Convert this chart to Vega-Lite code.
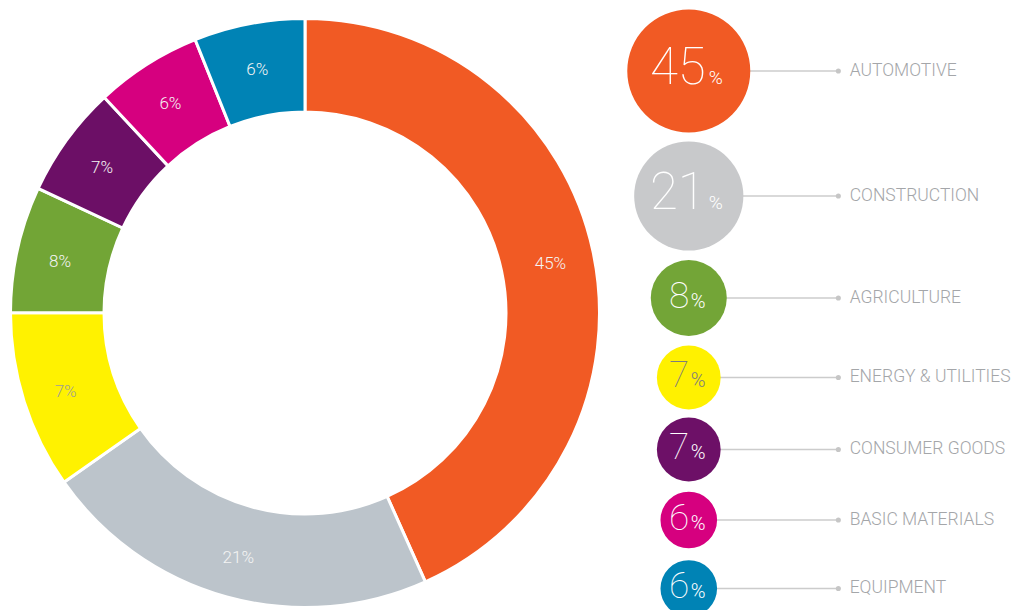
{
  "$schema": "https://vega.github.io/schema/vega-lite/v6.json",
  "background": "white",
  "padding": 0,
  "spacing": 0,
  "config": {"view": {"stroke": null}},
  "resolve": {"scale": {"color": "independent"}},
  "datasets": {
    "sectors": [
      {"sector": "AUTOMOTIVE", "pct": 45, "share": 43.3},
      {"sector": "CONSTRUCTION", "pct": 21, "share": 21.96},
      {"sector": "ENERGY & UTILITIES", "pct": 7, "share": 9.75},
      {"sector": "AGRICULTURE", "pct": 8, "share": 6.94},
      {"sector": "CONSUMER GOODS", "pct": 7, "share": 6.12},
      {"sector": "BASIC MATERIALS", "pct": 6, "share": 5.85},
      {"sector": "EQUIPMENT", "pct": 6, "share": 6.08}
    ]
  },
  "hconcat": [
    {
      "width": 610,
      "height": 626,
      "data": {"name": "sectors"},
      "transform": [
        {"window": [{"op": "row_number", "as": "idx"}]},
        {"calculate": "datum.pct + '%'", "as": "label"}
      ],
      "encoding": {
        "theta": {"field": "share", "type": "quantitative", "stack": true},
        "order": {"field": "idx", "type": "quantitative"}
      },
      "layer": [
        {
          "mark": {"type": "arc", "outerRadius": 294.5, "innerRadius": 201, "stroke": "white", "strokeWidth": 3},
          "encoding": {
            "color": {
              "field": "sector", "type": "nominal", "legend": null,
              "scale": {
                "domain": ["AUTOMOTIVE", "CONSTRUCTION", "ENERGY & UTILITIES", "AGRICULTURE", "CONSUMER GOODS", "BASIC MATERIALS", "EQUIPMENT"],
                "range": ["#F15A24", "#BCC4CB", "#FFF200", "#72A536", "#6C0F66", "#D6007F", "#0083B5"]
              }
            }
          }
        },
        {
          "mark": {"type": "text", "radius": 251, "dy": 3, "font": "Roboto", "fontWeight": 300, "fontSize": 17},
          "encoding": {
            "text": {"field": "label", "type": "nominal"},
            "detail": {"field": "sector", "type": "nominal"},
            "color": {"condition": {"test": "datum.sector === 'ENERGY & UTILITIES'", "value": "#a09f94"}, "value": "#f4f4f4"}
          }
        }
      ]
    },
    {
      "width": 419,
      "height": 626,
      "data": {"name": "sectors"},
      "transform": [
        {"window": [{"op": "row_number", "as": "idx"}]},
        {"window": [{"op": "row_number", "as": "rank"}], "sort": [{"field": "pct", "order": "descending"}, {"field": "idx", "order": "ascending"}]}
      ],
      "encoding": {
        "y": {"field": "rank", "type": "quantitative", "axis": null,
              "scale": {"domain": [1, 2, 3, 4, 5, 6, 7], "range": [71, 196, 298, 377.5, 449.5, 520, 588.5]}}
      },
      "layer": [
        {
          "mark": {"type": "rule", "stroke": "#cccccc", "strokeWidth": 1.5},
          "encoding": {
            "x": {"datum": 18.8, "type": "quantitative", "axis": null, "scale": {"domain": [0, 100]}},
            "x2": {"datum": 54.5}
          }
        },
        {
          "mark": {"type": "point", "shape": "circle", "filled": true, "opacity": 1, "strokeWidth": 0},
          "encoding": {
            "x": {"datum": 18.8, "type": "quantitative", "axis": null, "scale": {"domain": [0, 100]}},
            "size": {"field": "pct", "type": "quantitative", "legend": null,
                     "scale": {"domain": [6, 7, 8, 21, 45], "range": [3204, 4070, 5776, 11925, 15129]}},
            "color": {
              "field": "sector", "type": "nominal", "legend": null,
              "scale": {
                "domain": ["AUTOMOTIVE", "CONSTRUCTION", "ENERGY & UTILITIES", "AGRICULTURE", "CONSUMER GOODS", "BASIC MATERIALS", "EQUIPMENT"],
                "range": ["#F15A24", "#C8C9CB", "#FFF100", "#73A537", "#6D1067", "#D6007F", "#0083B5"]
              }
            }
          }
        },
        {
          "mark": {"type": "point", "shape": "circle", "filled": true, "opacity": 1, "size": 26, "color": "#c6c6c6"},
          "encoding": {
            "x": {"datum": 54.5, "type": "quantitative", "axis": null, "scale": {"domain": [0, 100]}}
          }
        },
        {
          "mark": {"type": "text", "align": "left", "baseline": "alphabetic", "dy": 4.5, "font": "Roboto", "fontWeight": 300, "fontSize": 17.5, "color": "#a4a6a9"},
          "encoding": {
            "x": {"datum": 57.2, "type": "quantitative", "axis": null, "scale": {"domain": [0, 100]}},
            "text": {"field": "sector", "type": "nominal"}
          }
        },
        {
          "transform": [{"filter": "datum.pct >= 20"}],
          "mark": {"type": "text", "align": "right", "baseline": "alphabetic", "dx": 17, "dy": 13.3, "font": "Roboto", "fontWeight": 100, "fontSize": 51, "color": "white"},
          "encoding": {
            "x": {"datum": 18.8, "type": "quantitative", "axis": null, "scale": {"domain": [0, 100]}},
            "text": {"field": "pct", "type": "quantitative"}
          }
        },
        {
          "transform": [{"filter": "datum.pct >= 20"}],
          "mark": {"type": "text", "align": "left", "baseline": "alphabetic", "dx": 20, "dy": 13.3, "font": "Roboto", "fontWeight": 300, "fontSize": 19, "color": "white"},
          "encoding": {
            "x": {"datum": 18.8, "type": "quantitative", "axis": null, "scale": {"domain": [0, 100]}},
            "text": {"value": "%"}
          }
        },
        {
          "transform": [{"filter": "datum.pct < 20"}],
          "mark": {"type": "text", "align": "right", "baseline": "alphabetic", "dx": 0.5, "dy": 9.5, "font": "Roboto", "fontWeight": 100, "fontSize": 37},
          "encoding": {
            "x": {"datum": 18.8, "type": "quantitative", "axis": null, "scale": {"domain": [0, 100]}},
            "text": {"field": "pct", "type": "quantitative"},
            "color": {"condition": {"test": "datum.sector === 'ENERGY & UTILITIES'", "value": "#7d7d7d"}, "value": "white"}
          }
        },
        {
          "transform": [{"filter": "datum.pct < 20"}],
          "mark": {"type": "text", "align": "left", "baseline": "alphabetic", "dx": 2, "dy": 9.5, "font": "Roboto", "fontWeight": 300, "fontSize": 20},
          "encoding": {
            "x": {"datum": 18.8, "type": "quantitative", "axis": null, "scale": {"domain": [0, 100]}},
            "text": {"value": "%"},
            "color": {"condition": {"test": "datum.sector === 'ENERGY & UTILITIES'", "value": "#7d7d7d"}, "value": "white"}
          }
        }
      ]
    }
  ]
}
